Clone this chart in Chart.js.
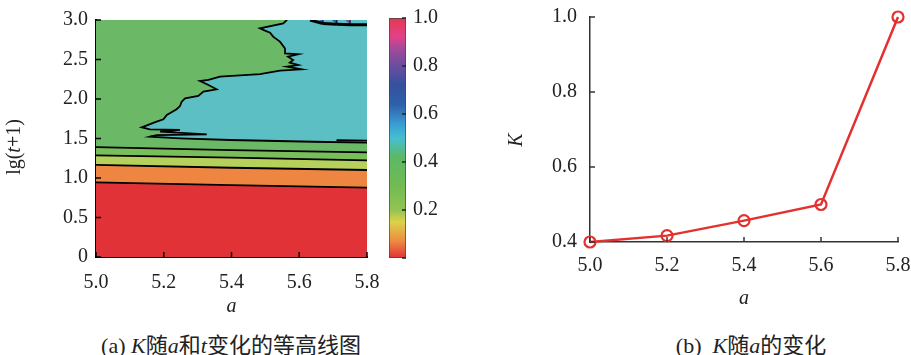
<!DOCTYPE html>
<html lang="zh">
<head>
<meta charset="UTF-8">
<title>K随a和t的变化</title>
<style>
  body { margin: 0; background: #fff; }
  #wrap { position: relative; width: 911px; height: 355px; overflow: hidden;
          font-family: 'Liberation Serif', 'Noto Sans CJK SC', serif; color: #222; }
  canvas { position: absolute; top: 0; }
  .cap { position: absolute; top: 333px; font-size: 22px; line-height: 26px; text-align: center; white-space: nowrap; }
  .ytitle { position: absolute; font-size: 20px; line-height: 24px; text-align: center; white-space: nowrap; transform: rotate(-90deg); }
</style>
</head>
<body>
<div id="wrap">
  <canvas id="contour" width="380" height="320" style="left:0"></canvas>
  <canvas id="cbar" width="100" height="300" style="left:380px"></canvas>
  <canvas id="kline" width="431" height="320" style="left:480px"></canvas>
  <div class="ytitle" style="left:-22px; top:135px; width:70px;">lg(<i>t</i>+1)</div>
  <div class="ytitle" style="left:500px; top:128px; width:30px;"><i>K</i></div>
  <div class="cap" style="left:81px; width:300px;">(a) <i>K</i>随<i>a</i>和<i>t</i>变化的等高线图</div>
  <div class="cap" style="left:601px; width:300px;">(b) &nbsp;<i>K</i>随<i>a</i>的变化</div>
</div>
<script src="https://cdn.jsdelivr.net/npm/chart.js@4/dist/chart.umd.min.js"></script>
<script>
// ---- data ----
const aTicks = [5.0, 5.2, 5.4, 5.6, 5.8];

// contour lines of panel (a), sampled at a = 5.0, 5.4, 5.8
const contourX = [5.0, 5.4, 5.8];
const lineRedOrange = [0.945, 0.911, 0.877];
const lineOrangeYellow = [1.165, 1.13, 1.101];
const lineYellowGreen = [1.287, 1.257, 1.224];
const lineGreenGreen = [1.392, 1.354, 1.325];

// jagged border of the K≈0.5 (teal) region, from the top edge down to the right edge
const tealEdgeX = [5.563, 5.553, 5.484, 5.499, 5.514, 5.523, 5.543, 5.558, 5.558, 5.597, 5.567,
  5.582, 5.572, 5.597, 5.563, 5.607, 5.543, 5.484, 5.366, 5.332, 5.307, 5.332, 5.356, 5.317,
  5.302, 5.263, 5.253, 5.248, 5.238, 5.209, 5.199, 5.179, 5.135, 5.159, 5.248, 5.189, 5.327,
  5.179, 5.159, 5.248, 5.396, 5.641, 5.8];
const tealEdgeY = [3.0, 2.958, 2.894, 2.865, 2.839, 2.789, 2.726, 2.64, 2.578, 2.566, 2.536,
  2.494, 2.46, 2.43, 2.409, 2.375, 2.358, 2.316, 2.282, 2.241, 2.228, 2.177, 2.123, 2.093,
  2.038, 2.009, 1.966, 1.911, 1.87, 1.797, 1.743, 1.713, 1.641, 1.616, 1.608, 1.586, 1.553,
  1.544, 1.523, 1.502, 1.481, 1.459, 1.447];
const tealStubX = [5.71, 5.8];
const tealStubY = [1.478, 1.472];

// small high-K patch at the top right corner
const topPatchX = [5.632, 5.670, 5.711, 5.750, 5.8];
const topPatchY = [3.0, 2.955, 2.945, 2.94, 2.935];
const topPatchColors = ['#3b6fc2', '#3556a8', '#7a57a6', '#e0418a'];

// colour bar
const cbStops = [0, 0.07, 0.15, 0.2, 0.3, 0.42, 0.5, 0.56, 0.64, 0.72, 0.8, 0.87, 0.92, 1];
const cbColors = ['#e03237', '#ee8a40', '#dcd24a', '#92c452', '#72bb52', '#5cb866', '#45c0d0',
  '#3a9ad2', '#2f60aa', '#34519f', '#6a4e9f', '#a04a9a', '#e2418a', '#e23a50'];

// panel (b)
const kA = [5.0, 5.2, 5.4, 5.6, 5.8];
const kValues = [0.40, 0.417, 0.457, 0.50, 1.0];

// ---- helpers ----
const FONT = "'Liberation Serif', 'Times New Roman', serif";
const X_MIN = 5.0, X_MAX = 5.8, Y_MAX = 3.0, OVER = 0.1;
const pts = (xs, ys) => xs.map((x, i) => ({ x: x, y: ys[i] }));

// fixed axis sizes, and no extra room for overhanging tick labels
function fixSize(w, h) {
  return s => {
    if (w != null) s.width = w;
    if (h != null) s.height = h;
    s.paddingLeft = s.paddingRight = s.paddingTop = s.paddingBottom = 0;
  };
}

// ticks pointing into the plot, like the original
const inwardTicks = {
  id: 'inwardTicks',
  afterDatasetsDraw(chart, args, opts) {
    const { ctx, chartArea: area } = chart;
    ctx.save();
    ctx.strokeStyle = opts.color || '#000';
    ctx.lineWidth = opts.width || 1.5;
    const len = opts.len || 5;
    for (const id of ['x', 'y']) {
      const s = chart.scales[id];
      if (!s || !s.options.display) continue;
      s.ticks.forEach(t => {
        const p = s.getPixelForValue(t.value);
        ctx.beginPath();
        if (s.isHorizontal()) {
          ctx.moveTo(p, area.bottom); ctx.lineTo(p, area.bottom - len);
        } else if (s.position === 'right') {
          ctx.moveTo(area.right, p); ctx.lineTo(area.right - len, p);
        } else {
          ctx.moveTo(area.left, p); ctx.lineTo(area.left + len, p);
        }
        ctx.stroke();
      });
    }
    ctx.restore();
  }
};

// ---- panel (a): filled contour ----
function band(ys, fill, bg, order, border) {
  return {
    data: pts(contourX, ys), fill: fill, backgroundColor: bg,
    borderColor: border ? '#000' : 'rgba(0,0,0,0)', borderWidth: 1.8,
    order: order, pointRadius: 0, tension: 0
  };
}

const tealPoly = [{ x: tealEdgeX[0], y: Y_MAX + OVER }]
  .concat(pts(tealEdgeX, tealEdgeY))
  .concat([{ x: X_MAX + OVER, y: tealEdgeY[tealEdgeY.length - 1] },
           { x: X_MAX + OVER, y: Y_MAX + OVER }]);

const patchSets = topPatchColors.map((c, i) => {
  const last = i === topPatchColors.length - 1;
  const x0 = topPatchX[i], x1 = last ? X_MAX + OVER : topPatchX[i + 1];
  const y0 = topPatchY[i], y1 = topPatchY[i + 1];
  return {
    data: [{ x: x0, y: y0 }, { x: x1, y: y1 }, { x: x1, y: Y_MAX + OVER }, { x: x0, y: Y_MAX + OVER }],
    fill: 'shape', backgroundColor: c, borderColor: '#000', borderWidth: 1,
    segment: { borderWidth: ctx => ctx.p0DataIndex === 0 ? 3 : 1 },
    order: 2, pointRadius: 0, tension: 0
  };
});

new Chart(document.getElementById('contour'), {
  type: 'line',
  data: {
    datasets: [
      band(lineRedOrange, 'start', '#e13237', 8, true),
      band(lineOrangeYellow, 0, '#ee8642', 7, true),
      band(lineYellowGreen, 1, '#b6d05c', 6, true),
      band(lineGreenGreen, 2, '#79be5b', 5, true),
      band(lineGreenGreen, 'end', '#6bb966', 9, false),
      {
        data: tealPoly, fill: 'shape', backgroundColor: '#5bbfc3',
        borderColor: '#000', borderWidth: 1.8, order: 3, pointRadius: 0, tension: 0
      },
      ...patchSets,
      {
        data: pts(tealStubX, tealStubY), fill: false, borderColor: '#000', borderWidth: 1.8,
        order: 1, pointRadius: 0
      }
    ]
  },
  options: {
    responsive: false,
    animation: false,
    layout: { autoPadding: false, padding: { top: 20, right: 13, left: 0, bottom: 0 } },
    plugins: {
      legend: { display: false },
      tooltip: { enabled: false },
      filler: { drawTime: 'beforeDatasetsDraw' },
      inwardTicks: { len: 5, color: '#000', width: 1.5 }
    },
    scales: {
      x: {
        type: 'linear', min: X_MIN, max: X_MAX, z: 1,
        afterFit: fixSize(null, 63),
        grid: { display: false, drawTicks: false },
        border: { display: true, color: '#000', width: 2 },
        ticks: { stepSize: 0.2, padding: 14, color: '#222', font: { family: FONT, size: 20 },
                 callback: v => v.toFixed(1) },
        title: { display: true, text: 'a', color: '#222', padding: { top: 0, bottom: 1 },
                 font: { family: FONT, size: 20, style: 'italic' } }
      },
      y: {
        min: 0, max: Y_MAX, z: 1,
        afterFit: fixSize(96, null),
        grid: { display: false, drawTicks: false },
        border: { display: true, color: '#000', width: 2 },
        ticks: { stepSize: 0.5, padding: 8, color: '#222', font: { family: FONT, size: 20 },
                 callback: v => v === 0 ? '0' : v.toFixed(1) }
      }
    }
  },
  plugins: [inwardTicks]
});

// ---- colour bar ----
new Chart(document.getElementById('cbar'), {
  type: 'bar',
  data: {
    labels: [''],
    datasets: [{
      data: [[0, 1]],
      barPercentage: 1, categoryPercentage: 1,
      borderColor: '#444', borderWidth: 1, borderSkipped: false,
      backgroundColor: ctx => {
        const area = ctx.chart.chartArea;
        if (!area) return cbColors[0];
        const g = ctx.chart.ctx.createLinearGradient(0, area.bottom, 0, area.top);
        cbStops.forEach((s, i) => g.addColorStop(s, cbColors[i]));
        return g;
      }
    }]
  },
  options: {
    responsive: false,
    animation: false,
    layout: { autoPadding: false, padding: { top: 18, left: 9, right: 0, bottom: 42 } },
    plugins: {
      legend: { display: false },
      tooltip: { enabled: false },
      inwardTicks: { len: 4, color: '#222', width: 1.5 }
    },
    scales: {
      x: { display: false },
      y: {
        position: 'right', min: 0, max: 1,
        afterFit: fixSize(74, null),
        grid: { display: false, drawTicks: false },
        border: { display: false },
        ticks: { stepSize: 0.2, padding: 7, color: '#222', font: { family: FONT, size: 20 },
                 callback: v => v === 0 ? '' : v.toFixed(1) }
      }
    }
  },
  plugins: [inwardTicks]
});

// ---- panel (b): K against a ----
new Chart(document.getElementById('kline'), {
  type: 'line',
  data: {
    datasets: [{
      data: pts(kA, kValues),
      borderColor: '#e3312f', borderWidth: 2.5, tension: 0,
      pointRadius: 5.5, pointBorderWidth: 2.2,
      pointBorderColor: '#e3312f', pointBackgroundColor: 'rgba(255,255,255,0)',
      clip: false
    }]
  },
  options: {
    responsive: false,
    animation: false,
    layout: { autoPadding: false, padding: { top: 17, right: 13, left: 0, bottom: 0 } },
    plugins: {
      legend: { display: false },
      tooltip: { enabled: false },
      inwardTicks: { len: 5, color: '#333', width: 1.5 }
    },
    scales: {
      x: {
        type: 'linear', min: kA[0], max: kA[kA.length - 1],
        afterFit: fixSize(null, 78),
        grid: { display: false, drawTicks: false },
        border: { display: true, color: '#333', width: 1.5 },
        ticks: { stepSize: 0.2, padding: 12, color: '#222', font: { family: FONT, size: 20 },
                 callback: v => v.toFixed(1) },
        title: { display: true, text: 'a', color: '#222', padding: { top: 0, bottom: 9 },
                 font: { family: FONT, size: 20, style: 'italic' } }
      },
      y: {
        min: 0.4, max: 1.0,
        afterFit: fixSize(110, null),
        grid: { display: false, drawTicks: false },
        border: { display: true, color: '#333', width: 1.5 },
        ticks: { stepSize: 0.2, padding: 13, color: '#222', font: { family: FONT, size: 20 },
                 callback: v => v.toFixed(1) }
      }
    }
  },
  plugins: [inwardTicks]
});
</script>
</body>
</html>
